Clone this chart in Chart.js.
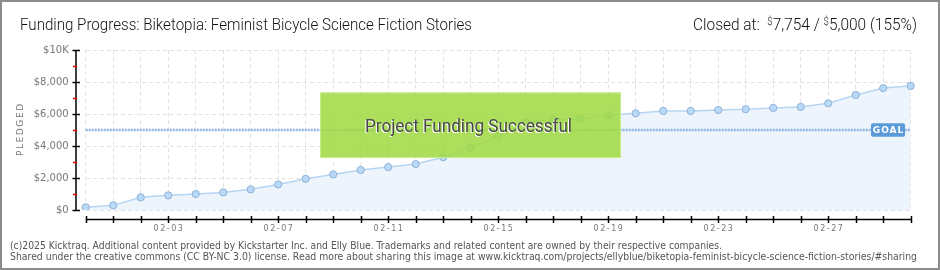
<!DOCTYPE html>
<html>
<head>
<meta charset="utf-8">
<script src="https://cdn.jsdelivr.net/npm/chart.js@4/dist/chart.umd.min.js"></script>
<style>
  html, body { margin: 0; padding: 0; background: #fff; }
  #wrap { position: relative; width: 940px; height: 270px; }
</style>
</head>
<body>
<div id="wrap"><canvas id="fundChart" width="940" height="270"></canvas></div>
<script>
// data
const dates = ['01-31', '02-01', '02-02', '02-03', '02-04', '02-05', '02-06', '02-07', '02-08', '02-09',
    '02-10', '02-11', '02-12', '02-13', '02-14', '02-15', '02-16', '02-17', '02-18', '02-19',
    '02-20', '02-21', '02-22', '02-23', '02-24', '02-25', '02-26', '02-27', '02-28', '03-01', '03-02'];
const pledged = [170, 290, 790, 915, 1000, 1100, 1290, 1600, 1950, 2220,
    2500, 2680, 2870, 3300, 3890, 4620, 5520, 5640, 5680, 5920,
    6040, 6190, 6190, 6250, 6300, 6380, 6440, 6670, 7190, 7620, 7754];
const goal = 5000;
const yTicks = [0, 2000, 4000, 6000, 8000, 10000];
const yMinorTicks = [1000, 3000, 5000, 7000, 9000];
const shownDates = ['02-03', '02-07', '02-11', '02-15', '02-19', '02-23', '02-27'];

const titleText = 'Funding Progress: Biketopia: Feminist Bicycle Science Fiction Stories';
const footer1 = '(c)2025 Kicktraq. Additional content provided by Kickstarter Inc. and Elly Blue. Trademarks and related content are owned by their respective companies.';
const footer2 = 'Shared under the creative commons (CC BY-NC 3.0) license. Read more about sharing this image at www.kicktraq.com/projects/ellyblue/biketopia-feminist-bicycle-science-fiction-stories/#sharing';

// draw text squeezed/stretched to a given width
function fitText(ctx, text, x, y, width, font, color) {
    ctx.save();
    ctx.font = font;
    ctx.fillStyle = color;
    ctx.textAlign = 'left';
    ctx.textBaseline = 'alphabetic';
    var w = ctx.measureText(text).width;
    ctx.translate(x, y);
    ctx.scale(width / w, 1);
    ctx.fillText(text, 0, 0);
    ctx.restore();
}

const decorations = {
    id: 'decorations',
    afterDraw(chart) {
        const ctx = chart.ctx;
        const xs = chart.scales.x;
        const ys = chart.scales.y;
        const area = chart.chartArea;

        // frame
        ctx.save();
        ctx.strokeStyle = '#8c8c8c';
        ctx.lineWidth = 2;
        ctx.strokeRect(1, 1, 938, 268);
        ctx.restore();

        // title
        fitText(ctx, titleText, 20, 30, 452, '300 16px Roboto', '#111');

        // closed at
        ctx.save();
        var parts = [
            ['Closed at:  ', '300 16px Roboto', 0],
            ['$', '300 10px Roboto', -5],
            ['7,754 / ', '300 16px Roboto', 0],
            ['$', '300 10px Roboto', -5],
            ['5,000 (155%)', '300 16px Roboto', 0]
        ];
        var total = 0;
        parts.forEach(p => { ctx.font = p[1]; total += ctx.measureText(p[0]).width; });
        var sx = 224 / total;
        ctx.translate(693, 30);
        ctx.scale(sx, 1);
        ctx.fillStyle = '#111';
        var cx = 0;
        parts.forEach(p => {
            ctx.font = p[1];
            ctx.fillText(p[0], cx, p[2]);
            cx += ctx.measureText(p[0]).width;
        });
        ctx.restore();

        // y axis line and ticks
        ctx.save();
        ctx.strokeStyle = '#000';
        ctx.lineWidth = 1.5;
        ctx.beginPath();
        ctx.moveTo(76, ys.getPixelForValue(10000));
        ctx.lineTo(76, ys.getPixelForValue(0));
        yTicks.forEach(v => {
            var py = Math.round(ys.getPixelForValue(v)) + 0.5;
            ctx.moveTo(72.5, py);
            ctx.lineTo(80, py);
        });
        ctx.stroke();
        ctx.strokeStyle = '#e00000';
        ctx.beginPath();
        yMinorTicks.forEach(v => {
            var py = Math.round(ys.getPixelForValue(v)) + 0.5;
            ctx.moveTo(73, py);
            ctx.lineTo(77, py);
        });
        ctx.stroke();

        // x axis line and ticks
        ctx.strokeStyle = '#000';
        ctx.beginPath();
        ctx.moveTo(area.left, 219.5);
        ctx.lineTo(area.right, 219.5);
        dates.forEach((d, i) => {
            var px = Math.round(xs.getPixelForValue(i)) + 0.5;
            ctx.moveTo(px, 216);
            ctx.lineTo(px, 223);
        });
        ctx.stroke();

        // x labels
        ctx.font = '8px "DejaVu Sans"';
        ctx.letterSpacing = '1.5px';
        ctx.fillStyle = '#777';
        ctx.textAlign = 'center';
        ctx.textBaseline = 'middle';
        shownDates.forEach(d => {
            ctx.fillText(d, xs.getPixelForValue(dates.indexOf(d)) + 0.75, 228.5);
        });

        // PLEDGED
        ctx.translate(20.5, 130);
        ctx.rotate(-Math.PI / 2);
        ctx.font = '9px "DejaVu Sans"';
        ctx.letterSpacing = '1.6px';
        ctx.fillText('PLEDGED', 0.8, 0);
        ctx.restore();

        // goal badge
        ctx.save();
        var gy = ys.getPixelForValue(goal);
        ctx.fillStyle = '#5b9bd9';
        ctx.beginPath();
        ctx.roundRect(871, gy - 6.7, 34, 13.4, 2);
        ctx.fill();
        ctx.fillStyle = '#fff';
        ctx.font = 'bold 9px "DejaVu Sans"';
        ctx.letterSpacing = '1px';
        ctx.textAlign = 'center';
        ctx.textBaseline = 'middle';
        ctx.fillText('GOAL', 888.5, gy + 0.5);
        ctx.restore();

        // funding successful box
        ctx.save();
        ctx.fillStyle = 'rgba(160, 218, 66, 0.86)';
        ctx.fillRect(320, 92.5, 301, 65.5);
        ctx.strokeStyle = '#c6ec8c';
        ctx.lineWidth = 1;
        ctx.strokeRect(320.5, 93, 300, 64.5);
        ctx.restore();
        fitText(ctx, 'Project Funding Successful', 364, 133, 207, '18px Roboto', '#ffffff');
        fitText(ctx, 'Project Funding Successful', 365, 132, 207, '18px Roboto', '#4a4a4a');

        // footer
        fitText(ctx, footer1, 10, 248.5, 712, '10px "DejaVu Sans"', '#555');
        fitText(ctx, footer2, 10, 259.5, 907, '10px "DejaVu Sans"', '#555');
    }
};

const ctx = document.getElementById('fundChart').getContext('2d');
const fundChart = new Chart(ctx, {
    type: 'line',
    data: {
        labels: dates,
        datasets: [
            {
                label: 'Goal',
                data: dates.map(() => goal),
                borderColor: '#8db5e3',
                borderWidth: 2.5,
                borderDash: [2, 1],
                pointRadius: 0,
                fill: false,
                order: 1
            },
            {
                label: 'Pledged',
                data: pledged,
                borderColor: '#b5d5f3',
                borderWidth: 1.5,
                backgroundColor: '#edf4fc',
                fill: 'origin',
                tension: 0,
                pointRadius: 3.6,
                pointBackgroundColor: '#b9d9f9',
                pointBorderColor: '#8fb1d6',
                pointBorderWidth: 1,
                order: 2
            }
        ]
    },
    options: {
        responsive: false,
        animation: false,
        layout: {
            padding: { left: 0, right: 29.3, top: 50, bottom: 0 }
        },
        plugins: {
            legend: { display: false },
            tooltip: { enabled: false }
        },
        scales: {
            x: {
                offset: false,
                grid: { color: '#e2e2e2', drawTicks: false },
                border: { display: false, dash: [4, 3] },
                ticks: { display: false, autoSkip: false },
                afterFit: (scale) => { scale.height = 60; }
            },
            y: {
                min: 0,
                max: 10000,
                grid: { color: '#e2e2e2', drawTicks: false },
                border: { display: false, dash: [4, 3] },
                ticks: {
                    stepSize: 2000,
                    padding: 17,
                    color: '#777',
                    font: { family: "'DejaVu Sans'", size: 10 },
                    callback: (v) => v === 10000 ? '$10K' : '$' + v.toLocaleString('en-US')
                },
                afterFit: (scale) => { scale.width = 85.7; }
            }
        }
    },
    plugins: [decorations]
});
</script>
</body>
</html>
